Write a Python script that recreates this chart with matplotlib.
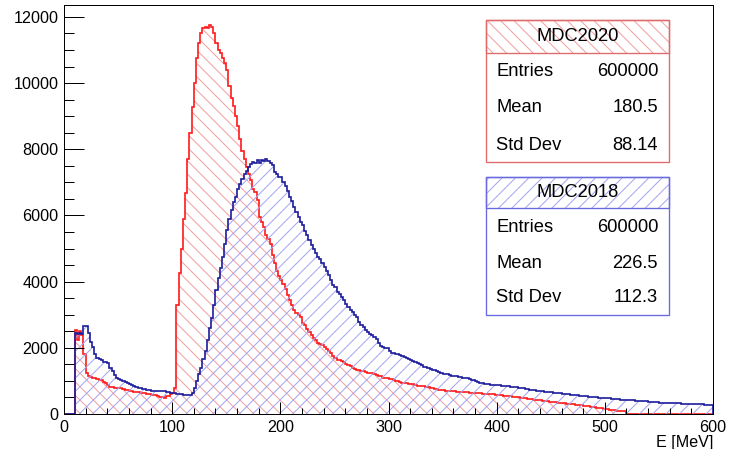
import matplotlib

matplotlib.use("Agg")
import matplotlib.pyplot as plt
import numpy as np
from matplotlib.patches import Rectangle
from matplotlib.ticker import MultipleLocator

# 2 MeV bins, both histograms start at 10 MeV
bin_width = 2.0
first_edge = 10.0

mdc2020_counts = [
    2540, 2250, 2520, 2400, 1800, 1250, 1150, 1120, 1080, 1100,
    1060, 1040, 1020, 975, 930, 880, 830, 820, 800, 790,
    780, 775, 760, 740, 720, 700, 680, 670, 660, 650,
    640, 630, 620, 600, 590, 580, 570, 560, 540, 520,
    500, 490, 550, 530, 600, 640, 780, 3290, 4250, 5000,
    5900, 6670, 7700, 8480, 9290, 9990, 10750, 11200, 11500, 11650,
    11700, 11650, 11750, 11700, 11500, 11200, 11000, 10900, 10750, 10600,
    10400, 9900, 9550, 9300, 9000, 8700, 8300, 7950, 7700, 7450,
    7250, 7070, 6800, 6700, 6470, 5960, 5800, 5660, 5400, 5300,
    5150, 4800, 4550, 4330, 4180, 4050, 3930, 3780, 3600, 3450,
    3300, 3150, 3050, 2990, 2940, 2750, 2680, 2560, 2480, 2390,
    2300, 2250, 2150, 2130, 2080, 2030, 1960, 1900, 1830, 1760,
    1700, 1640, 1620, 1590, 1560, 1500, 1470, 1440, 1400, 1370,
    1340, 1320, 1300, 1290, 1270, 1250, 1240, 1230, 1210, 1190,
    1160, 1140, 1100, 1080, 1075, 1060, 1045, 1030, 1010, 990,
    965, 950, 940, 925, 915, 905, 895, 880, 860, 850,
    840, 835, 825, 815, 800, 780, 770, 760, 740, 725,
    720, 710, 705, 700, 690, 680, 675, 670, 665, 660,
    655, 650, 645, 640, 635, 630, 625, 620, 615, 610,
    605, 600, 595, 590, 580, 575, 565, 560, 550, 545,
    540, 530, 525, 515, 505, 500, 490, 480, 470, 460,
    450, 440, 435, 425, 420, 410, 400, 395, 385, 375,
    370, 360, 350, 345, 335, 330, 325, 315, 310, 300,
    295, 285, 280, 270, 260, 250, 240, 230, 220, 210,
    200, 190, 180, 170, 160, 150, 140, 130, 120, 115,
    105, 100, 95, 90, 85,
]

mdc2018_counts = [
    2440, 2430, 2440, 2430, 2660, 2650, 2450, 2180, 2030, 1800,
    1700, 1650, 1620, 1580, 1560, 1540, 1400, 1300, 1180, 1100,
    1060, 1030, 1000, 960, 930, 900, 870, 850, 830, 800,
    780, 770, 750, 730, 720, 710, 705, 700, 700, 690,
    690, 680, 670, 660, 645, 635, 625, 610, 600, 590,
    580, 580, 575, 580, 620, 800, 1000, 1200, 1400, 1650,
    1900, 2250, 2600, 2900, 3300, 3750, 4100, 4400, 4750, 5150,
    5550, 5900, 6150, 6400, 6550, 6800, 6950, 7100, 7250, 7350,
    7450, 7550, 7620, 7600, 7680, 7580, 7670, 7640, 7700, 7660,
    7600, 7520, 7300, 7250, 7170, 7150, 7020, 6900, 6750, 6560,
    6430, 6250, 6100, 5950, 5800, 5700, 5520, 5400, 5260, 5120,
    5000, 4870, 4750, 4680, 4560, 4450, 4330, 4200, 4050, 3900,
    3830, 3700, 3630, 3530, 3450, 3330, 3230, 3150, 3080, 2980,
    2920, 2780, 2690, 2620, 2540, 2480, 2420, 2380, 2330, 2280,
    2150, 2060, 2010, 1990, 1980, 1900, 1850, 1830, 1810, 1800,
    1770, 1750, 1720, 1690, 1660, 1630, 1590, 1570, 1550, 1520,
    1480, 1430, 1410, 1380, 1350, 1340, 1320, 1310, 1270, 1230,
    1220, 1200, 1195, 1180, 1160, 1150, 1140, 1130, 1125, 1100,
    1085, 1075, 1060, 1040, 1025, 1000, 960, 930, 925, 915,
    905, 900, 890, 880, 875, 880, 870, 860, 850, 845,
    840, 830, 825, 815, 810, 800, 790, 780, 765, 750,
    740, 730, 720, 705, 700, 690, 680, 675, 665, 660,
    655, 645, 640, 630, 620, 615, 605, 600, 590, 580,
    575, 565, 560, 550, 545, 540, 530, 525, 515, 510,
    505, 500, 495, 490, 485, 480, 475, 470, 460, 455,
    450, 440, 435, 430, 425, 420, 420, 415, 410, 400,
    395, 390, 385, 385, 380, 370, 365, 360, 355, 350,
    345, 340, 340, 335, 330, 330, 325, 325, 320, 320,
    315, 315, 310, 310, 305, 305, 300, 300, 300, 295,
    290, 285, 280, 270, 275,
]

stats = {
    "MDC2020": [("Entries", "600000"), ("Mean", "180.5"), ("Std Dev", "88.14")],
    "MDC2018": [("Entries", "600000"), ("Mean", "226.5"), ("Std Dev", "112.3")],
}

W, H, DPI = 730, 449, 80
plt.rcParams["font.family"] = ["Liberation Sans", "DejaVu Sans"]
plt.rcParams["hatch.linewidth"] = 0.9


def full_histogram(counts):
    edges = np.arange(0.0, 600.0 + bin_width, bin_width)
    values = np.zeros(len(edges) - 1)
    start = int(round(first_edge / bin_width))
    values[start:start + len(counts)] = counts
    return edges, values


def fig_xy(x, y):
    return x / W, 1 - y / H


def stat_box(fig, name, top, divider, bottom, row_ys, edge, hatch_color, hatch):
    x0, x1 = 486, 669
    fx0, fy_top = fig_xy(x0, top)
    fx1, fy_div = fig_xy(x1, divider)
    _, fy_bot = fig_xy(x1, bottom)
    fig.add_artist(Rectangle((fx0, fy_bot), fx1 - fx0, fy_top - fy_bot,
                             transform=fig.transFigure, facecolor="white",
                             edgecolor=edge, lw=1.2, zorder=5))
    fig.add_artist(Rectangle((fx0, fy_div), fx1 - fx0, fy_top - fy_div,
                             transform=fig.transFigure, facecolor="none",
                             edgecolor=hatch_color, lw=0, hatch=hatch, zorder=6))
    fig.add_artist(Rectangle((fx0, fy_div), fx1 - fx0, fy_top - fy_div,
                             transform=fig.transFigure, facecolor="none",
                             edgecolor=edge, lw=1.2, zorder=7))
    fig.text((fx0 + fx1) / 2, 1 - (top + divider) / 2 / H, name, ha="center",
             va="center", fontsize=16.5, zorder=8)
    for (label, value), y in zip(stats[name], row_ys):
        fig.text(496 / W, 1 - y / H, label, ha="left", va="center", fontsize=16.5, zorder=8)
        fig.text(658 / W, 1 - y / H, value, ha="right", va="center", fontsize=16.5, zorder=8)


fig = plt.figure(figsize=(W / DPI, H / DPI), dpi=DPI)
ax = fig.add_axes([64 / W, 1 - 414 / H, (713 - 64) / W, (414 - 5) / H])

edges, red = full_histogram(mdc2020_counts)
_, blue = full_histogram(mdc2018_counts)

ax.stairs(red, edges, fill=True, facecolor="none", edgecolor="#f2a0a0", lw=0,
          hatch="\\\\")
ax.stairs(red, edges, color="#ff1a1a", lw=1.5)
ax.stairs(blue, edges, fill=True, facecolor="none", edgecolor="#a4a4f2", lw=0,
          hatch="//")
ax.stairs(blue, edges, color="#1c1c9c", lw=1.5)

ax.set_xlim(0, 600)
ax.set_ylim(0, 12360)
ax.xaxis.set_major_locator(MultipleLocator(100))
ax.xaxis.set_minor_locator(MultipleLocator(20))
ax.yaxis.set_major_locator(MultipleLocator(2000))
ax.yaxis.set_minor_locator(MultipleLocator(500))
ax.tick_params(axis="both", which="both", direction="in", labelsize=14.5,
               width=0.9, color="black", pad=5)
ax.tick_params(axis="x", which="major", length=10.8)
ax.tick_params(axis="x", which="minor", length=5.4)
ax.tick_params(axis="y", which="major", length=18)
ax.tick_params(axis="y", which="minor", length=9)
for spine in ax.spines.values():
    spine.set_linewidth(0.9)

fig.text(713 / W, 1 - 442 / H, "E [MeV]", ha="right", va="center", fontsize=14.5)

stat_box(fig, "MDC2020", 20, 53, 162, [72, 108, 145], "#e06a6a", "#f2a0a0", "\\\\")
stat_box(fig, "MDC2018", 177, 208, 315, [227, 263, 298], "#6a6ae0", "#a4a4f2", "//")

fig.savefig("out.png", dpi=DPI)
plt.close(fig)
